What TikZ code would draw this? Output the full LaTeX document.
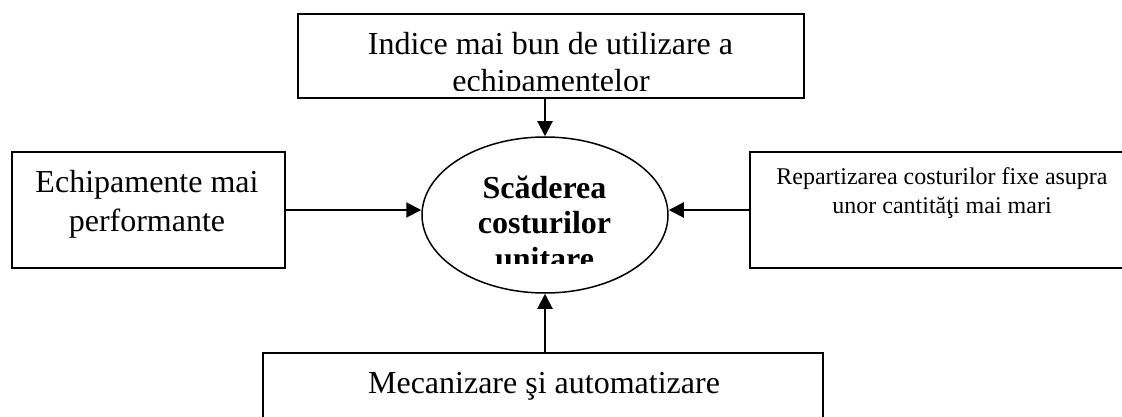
\documentclass[tikz,border=0pt]{standalone}
\usepackage{fontspec}
\setmainfont{Liberation Serif}
\usetikzlibrary{arrows.meta,shapes.geometric}
\begin{document}
\begin{tikzpicture}[x=1pt,y=-1pt,
  box/.style={draw,line width=1.8pt,minimum width=#1,inner sep=0pt},
  big/.style={font=\fontsize{32}{37}\selectfont,inner sep=0pt,anchor=base},
  small/.style={font=\fontsize{24}{28}\selectfont,inner sep=0pt,anchor=base},
  bold/.style={font=\fontsize{32}{37}\selectfont\bfseries,inner sep=0pt,anchor=base},
  arr/.style={line width=2pt,-{Triangle[length=15pt,width=15pt]}}]
\useasboundingbox (0,0) rectangle (1122,417);
% boxes
\node[box=506pt,minimum height=84pt] (tb) at (551,56) {};
\node[box=273pt,minimum height=116pt] (lb) at (148.5,210) {};
\node[box=380pt,minimum height=116pt] (rb) at (940,210) {};
\node[box=560pt,minimum height=90pt] (bb) at (543,398) {};
\node[draw,ellipse,line width=1.5pt,minimum width=246pt,minimum height=156pt,inner sep=0pt] (el) at (545,215) {};
% texts
\node[big] (t1) at (550.5,55) {Indice mai bun de utilizare a};
\begin{scope}
\clip (300,60) rectangle (802,91);
\node[big] (t2) at (551,92) {echipamentelor};
\end{scope}
\node[big] (l1) at (147,193) {Echipamente mai};
\node[big] (l2) at (147,231) {performante};
\node[small] (r1) at (942,184) {Repartizarea costurilor fixe asupra};
\node[small] (r2) at (942,213) {unor cantităţi mai mari};
\node[big] (b1) at (544,393) {Mecanizare şi automatizare};
\node[bold] (e1) at (544.5,198) {Scăderea};
\node[bold] (e2) at (544.5,233) {costurilor};
\begin{scope}
\clip (440,240) rectangle (650,263);
\node[bold] (e3) at (544.5,269) {unitare};
\end{scope}
% connectors
\draw[arr] (tb.south -| el.north) -- (el.north);
\draw[arr] (bb.north -| el.south) -- (el.south);
\draw[arr] (lb.east) -- (lb.east -| el.west);
\draw[arr] (rb.west) -- (rb.west -| el.east);
\end{tikzpicture}
\end{document}
